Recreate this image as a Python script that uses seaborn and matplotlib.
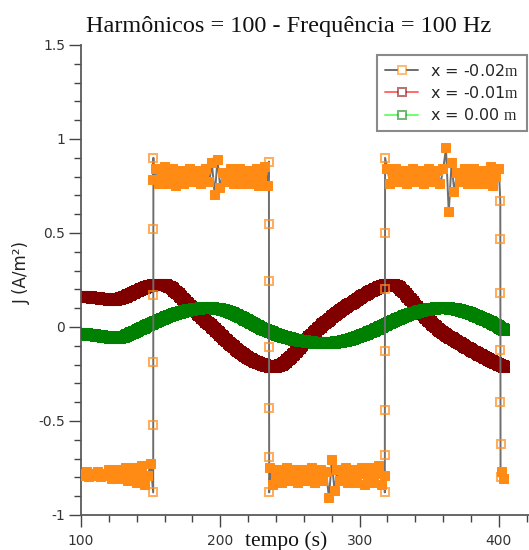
import numpy as np
import matplotlib
matplotlib.use("Agg")
import matplotlib.pyplot as plt
from matplotlib.lines import Line2D
from matplotlib.ticker import MultipleLocator, FuncFormatter
import seaborn as sns

# ---------------------------------------------------------------- data
# sampling of the square wave (s)
tsq_start, tsq_stop, tsq_step = 100, 404, 2
# sampling of the two smooth waves (s)
tw_start, tw_stop, tw_step = 100, 404, 1

# J at x = -0.02 m  (square wave reconstructed with 100 harmonics)
j_m002 = [
    # 100 .. 150
    -0.78, -0.79, -0.77, -0.80, -0.78, -0.79, -0.77, -0.80, -0.78, -0.79,
    -0.76, -0.81, -0.78, -0.76, -0.81, -0.79, -0.75, -0.82, -0.79, -0.75,
    -0.83, -0.79, -0.74, -0.84, -0.79, -0.73,
    # 152 .. 234
    0.78, 0.84, 0.76, 0.80, 0.85, 0.76, 0.80, 0.84, 0.75, 0.79,
    0.83, 0.76, 0.80, 0.84, 0.77, 0.80, 0.83, 0.76, 0.79, 0.84,
    0.77, 0.87, 0.70, 0.89, 0.74, 0.82, 0.77, 0.80, 0.84, 0.76,
    0.80, 0.84, 0.76, 0.79, 0.83, 0.76, 0.80, 0.84, 0.75, 0.80,
    0.85, 0.75,
    # 236 .. 318
    -0.75, -0.84, -0.79, -0.76, -0.83, -0.79, -0.75, -0.82, -0.79, -0.76,
    -0.83, -0.78, -0.76, -0.82, -0.79, -0.75, -0.83, -0.78, -0.76, -0.82,
    -0.77, -0.91, -0.71, -0.87, -0.76, -0.82, -0.79, -0.75, -0.83, -0.79,
    -0.76, -0.83, -0.78, -0.75, -0.84, -0.79, -0.75, -0.83, -0.78, -0.74,
    -0.84, -0.79,
    # 320 .. 400
    0.84, 0.76, 0.80, 0.84, 0.77, 0.80, 0.83, 0.76, 0.80, 0.84,
    0.77, 0.80, 0.83, 0.76, 0.79, 0.84, 0.77, 0.80, 0.83, 0.76,
    0.84, 0.95, 0.61, 0.87, 0.72, 0.82, 0.77, 0.80, 0.84, 0.76,
    0.80, 0.84, 0.76, 0.79, 0.83, 0.76, 0.80, 0.85, 0.75, 0.80,
    0.84,
    # 402 .. 404
    -0.77, -0.81,
]

# samples taken along the fast edges of the x = -0.02 m wave
edge_t = [151.82, 151.85, 151.88, 151.91, 151.94, 151.97,
          234.90, 234.93, 234.96, 234.99, 235.02, 235.05, 235.08,
          318.10, 318.13, 318.16, 318.19, 318.22, 318.25, 318.28,
          401.00, 401.03, 401.06, 401.09, 401.12, 401.15, 401.18]
edge_j = [-0.88, -0.52, -0.185, 0.17, 0.52, 0.90,
          0.88, 0.55, 0.245, -0.105, -0.43, -0.69, -0.88,
          -0.88, -0.68, -0.44, -0.13, 0.20, 0.50, 0.90,
          0.67, 0.47, 0.18, -0.12, -0.40, -0.62, -0.80]

# J at x = -0.01 m  (100 .. 404 s)
j_m001 = [
    0.160, 0.160, 0.159, 0.159, 0.158, 0.158, 0.157, 0.157, 0.156, 0.156,
    0.155, 0.154, 0.153, 0.152, 0.151, 0.150, 0.149, 0.148, 0.147, 0.147,
    0.146, 0.146, 0.145, 0.145, 0.145, 0.146, 0.147, 0.149, 0.151, 0.153,
    0.156, 0.159, 0.162, 0.165, 0.168, 0.172, 0.175, 0.179, 0.182, 0.186,
    0.189, 0.193, 0.196, 0.200, 0.203, 0.206, 0.209, 0.212, 0.214, 0.216,
    0.218, 0.220, 0.222, 0.224, 0.225, 0.226, 0.226, 0.226, 0.226, 0.225,
    0.224, 0.222, 0.219, 0.215, 0.211, 0.206, 0.200, 0.194, 0.187, 0.180,
    0.173, 0.166, 0.158, 0.151, 0.143, 0.136, 0.128, 0.121, 0.113, 0.106,
    0.099, 0.092, 0.085, 0.078, 0.071, 0.064, 0.057, 0.050, 0.043, 0.036,
    0.029, 0.022, 0.015, 0.008, 0.001, -0.006, -0.013, -0.020, -0.027, -0.034,
    -0.041, -0.048, -0.055, -0.062, -0.069, -0.076, -0.083, -0.090, -0.096, -0.103,
    -0.109, -0.115, -0.121, -0.127, -0.133, -0.139, -0.144, -0.149, -0.154, -0.159,
    -0.163, -0.168, -0.172, -0.176, -0.180, -0.184, -0.187, -0.190, -0.193, -0.196,
    -0.199, -0.202, -0.204, -0.206, -0.208, -0.210, -0.211, -0.212, -0.212, -0.212,
    -0.211, -0.209, -0.207, -0.204, -0.200, -0.195, -0.190, -0.184, -0.178, -0.171,
    -0.164, -0.157, -0.149, -0.142, -0.134, -0.126, -0.118, -0.110, -0.102, -0.094,
    -0.086, -0.078, -0.070, -0.062, -0.055, -0.047, -0.040, -0.033, -0.026, -0.019,
    -0.012, -0.005, 0.001, 0.008, 0.014, 0.021, 0.027, 0.033, 0.039, 0.045,
    0.051, 0.057, 0.062, 0.068, 0.073, 0.079, 0.084, 0.090, 0.095, 0.100,
    0.105, 0.110, 0.115, 0.120, 0.125, 0.130, 0.135, 0.140, 0.145, 0.150,
    0.154, 0.159, 0.163, 0.168, 0.172, 0.177, 0.181, 0.185, 0.189, 0.193,
    0.197, 0.201, 0.204, 0.208, 0.211, 0.214, 0.217, 0.220, 0.222, 0.224,
    0.225, 0.226, 0.226, 0.226, 0.225, 0.223, 0.220, 0.216, 0.211, 0.205,
    0.199, 0.192, 0.184, 0.176, 0.167, 0.159, 0.150, 0.141, 0.132, 0.123,
    0.114, 0.105, 0.096, 0.087, 0.079, 0.070, 0.062, 0.054, 0.046, 0.038,
    0.031, 0.024, 0.017, 0.010, 0.004, -0.002, -0.008, -0.014, -0.019, -0.025,
    -0.030, -0.036, -0.041, -0.046, -0.051, -0.056, -0.060, -0.065, -0.069, -0.074,
    -0.078, -0.083, -0.087, -0.092, -0.096, -0.101, -0.105, -0.110, -0.114, -0.119,
    -0.123, -0.127, -0.131, -0.135, -0.139, -0.143, -0.147, -0.151, -0.155, -0.159,
    -0.163, -0.167, -0.171, -0.175, -0.179, -0.183, -0.186, -0.190, -0.193, -0.197,
    -0.200, -0.204, -0.207, -0.210, -0.213,
]

# J at x = 0.00 m  (100 .. 404 s)
j_000 = [
    -0.035, -0.036, -0.037, -0.038, -0.039, -0.040, -0.041, -0.042, -0.043, -0.044,
    -0.045, -0.046, -0.047, -0.048, -0.049, -0.050, -0.051, -0.052, -0.053, -0.054,
    -0.055, -0.056, -0.057, -0.058, -0.058, -0.058, -0.058, -0.058, -0.057, -0.055,
    -0.053, -0.051, -0.048, -0.045, -0.041, -0.038, -0.034, -0.031, -0.027, -0.024,
    -0.020, -0.017, -0.013, -0.010, -0.006, -0.003, 0.001, 0.004, 0.008, 0.011,
    0.015, 0.018, 0.022, 0.025, 0.029, 0.032, 0.035, 0.039, 0.042, 0.045,
    0.048, 0.051, 0.054, 0.057, 0.060, 0.063, 0.065, 0.068, 0.070, 0.073,
    0.075, 0.077, 0.079, 0.081, 0.083, 0.085, 0.087, 0.089, 0.090, 0.092,
    0.093, 0.094, 0.095, 0.096, 0.097, 0.098, 0.099, 0.099, 0.100, 0.100,
    0.100, 0.100, 0.100, 0.100, 0.099, 0.099, 0.098, 0.097, 0.096, 0.095,
    0.094, 0.092, 0.090, 0.088, 0.086, 0.084, 0.081, 0.078, 0.075, 0.072,
    0.069, 0.066, 0.062, 0.059, 0.055, 0.051, 0.047, 0.043, 0.039, 0.035,
    0.031, 0.027, 0.023, 0.019, 0.015, 0.011, 0.007, 0.003, -0.001, -0.005,
    -0.008, -0.011, -0.014, -0.017, -0.020, -0.023, -0.026, -0.029, -0.032, -0.035,
    -0.038, -0.041, -0.043, -0.046, -0.048, -0.051, -0.053, -0.055, -0.057, -0.059,
    -0.061, -0.063, -0.065, -0.067, -0.068, -0.070, -0.071, -0.073, -0.074, -0.075,
    -0.076, -0.077, -0.078, -0.079, -0.080, -0.081, -0.082, -0.083, -0.083, -0.084,
    -0.084, -0.085, -0.085, -0.085, -0.085, -0.085, -0.085, -0.085, -0.085, -0.085,
    -0.084, -0.084, -0.083, -0.082, -0.081, -0.080, -0.079, -0.078, -0.076, -0.075,
    -0.073, -0.071, -0.069, -0.067, -0.065, -0.063, -0.060, -0.058, -0.055, -0.053,
    -0.050, -0.047, -0.044, -0.041, -0.038, -0.035, -0.032, -0.029, -0.026, -0.023,
    -0.019, -0.016, -0.012, -0.009, -0.005, -0.002, 0.002, 0.006, 0.009, 0.013,
    0.016, 0.020, 0.023, 0.027, 0.030, 0.034, 0.037, 0.041, 0.044, 0.047,
    0.050, 0.053, 0.056, 0.059, 0.062, 0.065, 0.067, 0.070, 0.072, 0.075,
    0.077, 0.079, 0.081, 0.083, 0.085, 0.087, 0.089, 0.091, 0.092, 0.093,
    0.094, 0.095, 0.096, 0.097, 0.098, 0.099, 0.099, 0.100, 0.100, 0.100,
    0.100, 0.100, 0.100, 0.100, 0.099, 0.098, 0.097, 0.096, 0.095, 0.094,
    0.092, 0.090, 0.088, 0.086, 0.084, 0.082, 0.080, 0.078, 0.075, 0.073,
    0.070, 0.067, 0.064, 0.061, 0.058, 0.055, 0.052, 0.049, 0.045, 0.042,
    0.038, 0.035, 0.031, 0.028, 0.024, 0.020, 0.016, 0.012, 0.008, 0.004,
    0.000, -0.004, -0.008, -0.012, -0.016,
]

labels = ["x = -0.02$\\mathrm{m}$", "x = -0.01$\\mathrm{m}$", "x = 0.00 $\\mathrm{m}$"]
x_ticks = [100, 200, 300, 400]

# ---------------------------------------------------------------- style
sns.set_theme(style="ticks")
plt.rcParams["font.family"] = ["DejaVu Sans"]
plt.rcParams["axes.unicode_minus"] = False
plt.rcParams["mathtext.fontset"] = "custom"
plt.rcParams["mathtext.rm"] = "Liberation Serif"

W, H = 529, 550
fig = plt.figure(figsize=(W / 100, H / 100), dpi=100, facecolor="white")
ax = fig.add_axes([81 / W, 35 / H, 448 / W, 470 / H])
ax.set_facecolor("white")

t_sq_grid = np.arange(tsq_start, tsq_stop + tsq_step, tsq_step)
t_wave = np.arange(tw_start, tw_stop + tw_step, tw_step)

# x = -0.02 m: plateau samples merged with the edge samples, in time order
t_sq = np.concatenate([t_sq_grid, edge_t])
j_sq = np.concatenate([j_m002, edge_j])
order = np.argsort(t_sq, kind="stable")
t_sq, j_sq = t_sq[order], j_sq[order]

plot_cols = ["#ff8a14", "#800000", "#008000"]
open_orange = (1.0, 0.55, 0.1, 0.7)
legend_edges = [(1.0, 0.52, 0.0, 0.55), (0.5, 0.0, 0.0, 0.55), (0.0, 0.5, 0.0, 0.55)]
line_cols = ["#6e6e6e", "#ff6b6b", "#6bff6b"]

ms_sq, ms_wave, mew = 5.3, 6.9, 1.45

# the two smooth waves: dense square markers merge into solid bands
sns.lineplot(x=t_wave, y=j_m001, ax=ax, sort=False, estimator=None,
             color=line_cols[1], lw=1.0, marker="s", markersize=ms_wave,
             markerfacecolor=plot_cols[1], markeredgecolor=plot_cols[1],
             markeredgewidth=mew, zorder=2)
sns.lineplot(x=t_wave, y=j_000, ax=ax, sort=False, estimator=None,
             color=line_cols[2], lw=1.0, marker="s", markersize=ms_wave,
             markerfacecolor=plot_cols[2], markeredgecolor=plot_cols[2],
             markeredgewidth=mew, zorder=3)

# square wave: connecting line with open markers (visible on the edges) ...
sns.lineplot(x=t_sq, y=j_sq, ax=ax, sort=False, estimator=None,
             color=line_cols[0], lw=1.4, marker="s", markersize=ms_sq,
             markerfacecolor="none", markeredgecolor=open_orange,
             markeredgewidth=mew, zorder=4)
# ... whose closely packed plateau samples overlap into a solid band
sns.scatterplot(x=t_sq_grid, y=j_m002, ax=ax, marker="s", s=ms_sq ** 2,
                color=plot_cols[0], edgecolor=plot_cols[0], linewidth=mew,
                zorder=5, legend=False)

# ---------------------------------------------------------------- axes
ax.set_xlim(100, 100 + 448 / 1.393)
ax.set_ylim(-1, 1.5)
ax.set_xticks(x_ticks)
ax.xaxis.set_minor_locator(MultipleLocator(20))
ax.yaxis.set_major_locator(MultipleLocator(0.5))
ax.yaxis.set_minor_locator(MultipleLocator(0.1))
ax.yaxis.set_major_formatter(FuncFormatter(lambda v, p: f"{v:g}"))
ax.xaxis.set_major_formatter(FuncFormatter(lambda v, p: f"{v:g}"))

for side in ["top", "right"]:
    ax.spines[side].set_visible(False)
for side in ["left", "bottom"]:
    ax.spines[side].set_color("#5a5a5a")
    ax.spines[side].set_linewidth(1.3)

ax.tick_params(which="major", direction="out", length=8.5, width=1.0,
               color="#444444", labelsize=10, labelcolor="#333333", pad=3)
ax.tick_params(which="minor", direction="out", length=5, width=1.0,
               color="#444444")
ax.tick_params(axis="x", which="major", pad=5)
ax.set_xlabel("")
ax.set_ylabel("")
ax.grid(False)

fig.text(289 / W, 1 - 32 / H, "Harmônicos = 100 - Frequência = 100 Hz",
         ha="center", va="baseline", fontsize=17.5,
         family="Liberation Serif", color="#111111")
fig.text(286.5 / W, 4 / H, "tempo (s)", ha="center", va="baseline",
         fontsize=15.5, family="Liberation Serif", color="#111111")
fig.text(22 / W, 1 - 272 / H, "J (A/m²)", rotation=90, ha="center",
         va="center", fontsize=12, color="#222222")

handles = [
    Line2D([], [], color=c, lw=1.4, marker="s", markersize=5.3,
           markerfacecolor="white", markeredgecolor=e, markeredgewidth=mew)
    for c, e in zip(line_cols, legend_edges)
]
leg = ax.legend(handles, labels, loc="upper right",
                bbox_to_anchor=(446 / 448, (515 - 55) / 470),
                borderaxespad=0, fontsize=11.5, frameon=True, fancybox=False,
                framealpha=1, edgecolor="#8a8a8a", handlelength=2.1,
                handletextpad=0.75, labelspacing=0.38, borderpad=0.5)
leg.get_frame().set_linewidth(1.5)
leg.set_zorder(10)

fig.savefig("out.png", dpi=100, facecolor="white")
